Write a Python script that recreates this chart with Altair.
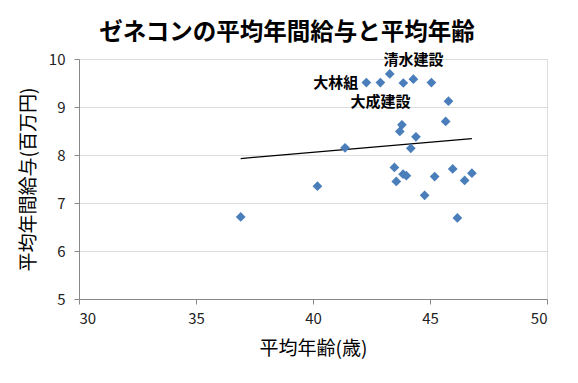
import altair as alt
import pandas as pd

# Average age (years) and average annual salary (million yen) of general contractors
ages = [42.28, 42.88, 43.28, 43.86, 44.29, 45.06, 45.79, 45.67, 43.80, 43.71,
        44.40, 41.37, 44.18, 43.48, 45.97, 43.85, 43.99, 43.56, 45.20, 46.79,
        46.48, 40.19, 44.77, 36.91, 46.17]
salaries = [9.51, 9.51, 9.69, 9.50, 9.58, 9.51, 9.12, 8.70, 8.63, 8.49,
            8.38, 8.15, 8.14, 7.74, 7.71, 7.60, 7.57, 7.45, 7.55, 7.62,
            7.47, 7.35, 7.16, 6.71, 6.69]
labels = ["大林組", "大成建設", "", "", "清水建設", "", "", "", "", "",
          "", "", "", "", "", "", "", "", "", "",
          "", "", "", "", ""]
label_pos = ["left", "below", "", "", "above", "", "", "", "", "",
             "", "", "", "", "", "", "", "", "", "",
             "", "", "", "", ""]

x_ticks = [30, 35, 40, 45, 50]
y_ticks = [5, 6, 7, 8, 9, 10]

df = pd.DataFrame({"age": ages, "salary": salaries, "label": labels, "pos": label_pos})

FONT = "Noto Sans CJK JP"

x_enc = alt.X("age:Q", scale=alt.Scale(domain=[30, 50], nice=False, zero=False),
              axis=alt.Axis(values=x_ticks, grid=False, title="平均年齢(歳)",
                            titleFontSize=19, titleFontWeight="normal",
                            titlePadding=13, labelPadding=7, tickSize=5,
                            labelFontSize=15, labelFont=FONT, labelColor="#222222",
                            titleFont=FONT, titleColor="black"))
y_enc = alt.Y("salary:Q", scale=alt.Scale(domain=[5, 10], nice=False, zero=False),
              axis=alt.Axis(values=y_ticks, grid=True, title="平均年間給与(百万円)",
                            titleFontSize=19, titleFontWeight="normal",
                            titlePadding=10, labelPadding=9, tickSize=5,
                            labelFontSize=15, labelFont=FONT, labelColor="#222222",
                            titleFont=FONT, titleColor="black"))

base = alt.Chart(df)

points = base.mark_point(shape="diamond", filled=True, size=95, color="#4A7EBB",
                         opacity=1).encode(x=x_enc, y=y_enc)

trend = base.transform_regression("age", "salary", method="linear").mark_line(
    color="black", strokeWidth=1.2).encode(x=x_enc, y=y_enc)

lab_left = base.transform_filter(alt.datum.pos == "left").mark_text(
    align="right", baseline="middle", dx=-8, fontSize=15, fontWeight="bold",
    font=FONT, color="black").encode(x=x_enc, y=y_enc, text="label:N")
lab_above = base.transform_filter(alt.datum.pos == "above").mark_text(
    align="center", baseline="middle", dy=-19, fontSize=15, fontWeight="bold",
    font=FONT, color="black").encode(x=x_enc, y=y_enc, text="label:N")
lab_below = base.transform_filter(alt.datum.pos == "below").mark_text(
    align="center", baseline="middle", dy=19, fontSize=15, fontWeight="bold",
    font=FONT, color="black").encode(x=x_enc, y=y_enc, text="label:N")

chart = alt.layer(trend, points, lab_left, lab_above, lab_below).properties(
    width=468, height=240,
    title=alt.TitleParams("ゼネコンの平均年間給与と平均年齢", fontSize=23.5, fontWeight="bold",
                          font=FONT, anchor="middle", dx=-26, offset=8, color="black"),
    autosize=alt.AutoSizeParams(type="none"),
    padding={"left": 71, "top": 51, "right": 20, "bottom": 60},
).configure_view(stroke=None).configure_axis(
    domainColor="#868686", tickColor="#868686", gridColor="#868686",
    gridWidth=1, domainWidth=1,
).configure(background="white")

chart.save("out.html", embed_options={"renderer": "svg", "actions": False})
